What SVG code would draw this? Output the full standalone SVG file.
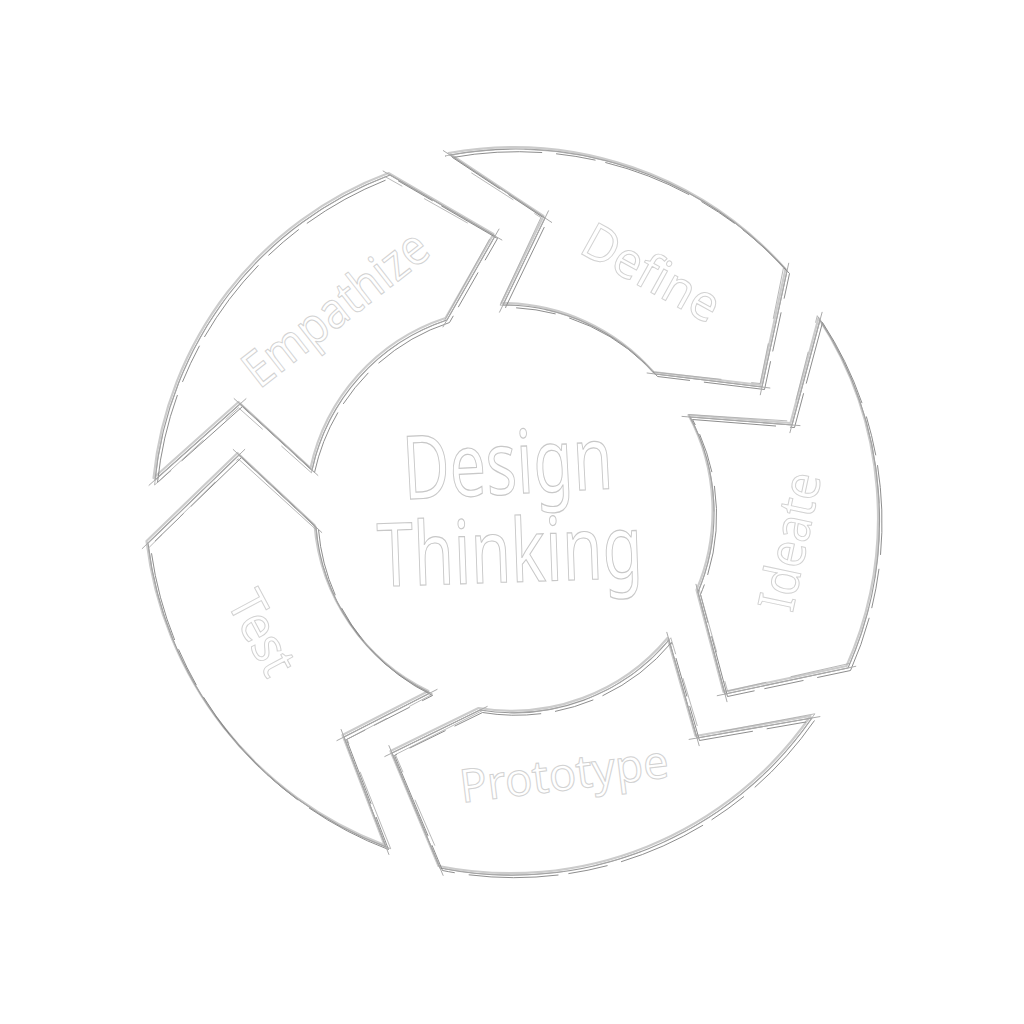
<svg xmlns="http://www.w3.org/2000/svg" xmlns:xlink="http://www.w3.org/1999/xlink" width="1024" height="1024" viewBox="0 0 1024 1024">
<style>
.base{fill:#ffffff;stroke:none}
.pa{fill:none;stroke:#9a9a9a;stroke-width:1.1;stroke-linejoin:round}
.pb{fill:none;stroke:#808080;stroke-width:0.9;stroke-dasharray:90 14 40 10;stroke-linejoin:round}
.pc{fill:none;stroke:#cccccc;stroke-width:2.2;stroke-linejoin:round}
.pd{fill:none;stroke:#a8a8a8;stroke-width:0.8;stroke-dasharray:50 30 120 25;stroke-linejoin:round}
.tick{fill:none;stroke:#aaaaaa;stroke-width:1;stroke-linecap:round}
.lbl{font-family:"Noto Sans","DejaVu Sans",sans-serif;font-size:50px;fill:#ffffff;stroke:#d2d2d2;stroke-width:1;text-anchor:middle}
.title{font-family:"Noto Sans","DejaVu Sans",sans-serif;font-size:88px;fill:#ffffff;stroke:#c8c8c8;stroke-width:1.2;text-anchor:middle}
</style>
<defs>
<path id="pE" d="M155,480 A365,365 0 0 1 390,175 L495,236 L447,320 A203,203 0 0 0 312,470 L240,404 Z"/>
<path id="pD" d="M450,155 A365,365 0 0 1 787,271 L762,387 L655,374 A203,203 0 0 0 503,305 L545,218 Z"/>
<path id="pI" d="M820,320 A365,365 0 0 1 848,668 L725,694 L698,592 A203,203 0 0 0 690,417 L792,425 Z"/>
<path id="pP" d="M812,718 A365,365 0 0 1 440,868 L392,753 L480,710 A203,203 0 0 0 669,640 L697,738 Z"/>
<path id="pT" d="M386,847 A372,372 0 0 1 148,543 L239,455 L316,527 A203,203 0 0 0 430,693 L344,737 Z"/>
</defs>
<rect width="1024" height="1024" fill="#ffffff"/>

<g id="connectors"></g>

<g id="empathize">
<use xlink:href="#pE" class="base"/>
<use xlink:href="#pE" class="pc" transform="translate(-1.5,-2)"/>
<use xlink:href="#pE" class="pa"/>
<use xlink:href="#pE" class="pb" transform="translate(2.5,2.5)"/>
<use xlink:href="#pE" class="pd" transform="rotate(-0.8 512 512)"/>
<path class="tick" d="M383.1,171 L501.9,240 M499,229.1 L443,326.9 M149,485.3 L246,398.7 M234.1,398.6 L317.9,475.4"/>
<text class="lbl" x="346" y="322" textLength="220" lengthAdjust="spacingAndGlyphs" transform="rotate(-38 346 322)">Empathize</text>
</g>

<g id="define">
<use xlink:href="#pD" class="base"/>
<use xlink:href="#pD" class="pc" transform="translate(-1.5,-2)"/>
<use xlink:href="#pD" class="pa"/>
<use xlink:href="#pD" class="pb" transform="translate(2.5,2.5)"/>
<use xlink:href="#pD" class="pd" transform="rotate(-0.8 512 512)"/>
<path class="tick" d="M788.7,263.2 L760.3,394.8 M769.9,388 L647.1,373 M443.3,150.6 L551.7,222.4 M548.5,210.8 L499.5,312.2"/>
<text class="lbl" x="643" y="288" textLength="150" lengthAdjust="spacingAndGlyphs" transform="rotate(29 643 288)">Define</text>
</g>

<g id="ideate">
<use xlink:href="#pI" class="base"/>
<use xlink:href="#pI" class="pc" transform="translate(-1.5,-2)"/>
<use xlink:href="#pI" class="pa"/>
<use xlink:href="#pI" class="pb" transform="translate(2.5,2.5)"/>
<use xlink:href="#pI" class="pd" transform="rotate(-0.8 512 512)"/>
<path class="tick" d="M855.8,666.3 L717.2,695.7 M727,701.7 L696,584.3 M822.1,312.3 L789.9,432.7 M800,425.6 L682,416.4"/>
<text class="lbl" x="807" y="545" textLength="140" lengthAdjust="spacingAndGlyphs" transform="rotate(-78 807 545)">Ideate</text>
</g>

<g id="prototype">
<use xlink:href="#pP" class="base"/>
<use xlink:href="#pP" class="pc" transform="translate(-1.5,-2)"/>
<use xlink:href="#pP" class="pa"/>
<use xlink:href="#pP" class="pb" transform="translate(2.5,2.5)"/>
<use xlink:href="#pP" class="pd" transform="rotate(-0.8 512 512)"/>
<path class="tick" d="M443.1,875.4 L388.9,745.6 M384.8,756.5 L487.2,706.5 M819.9,716.6 L689.1,739.4 M699.2,745.7 L666.8,632.3"/>
<text class="lbl" style="font-size:46px" x="566" y="790" textLength="210" lengthAdjust="spacingAndGlyphs" transform="rotate(-7 566 790)">Prototype</text>
</g>

<g id="test">
<use xlink:href="#pT" class="base"/>
<use xlink:href="#pT" class="pc" transform="translate(-1.5,-2)"/>
<use xlink:href="#pT" class="pa"/>
<use xlink:href="#pT" class="pb" transform="translate(2.5,2.5)"/>
<use xlink:href="#pT" class="pd" transform="rotate(-0.8 512 512)"/>
<path class="tick" d="M142.2,548.6 L244.8,449.4 M233.2,449.5 L321.8,532.5 M388.9,854.5 L341.1,729.5 M336.9,740.6 L437.1,689.4"/>
<text class="lbl" x="247" y="641" textLength="88" lengthAdjust="spacingAndGlyphs" transform="rotate(62 247 641)">Test</text>
</g>

<g id="center">
<text class="title" x="509" y="494" textLength="210" lengthAdjust="spacingAndGlyphs" transform="rotate(-3 509 494)">Design</text>
<text class="title" x="511" y="582" textLength="265" lengthAdjust="spacingAndGlyphs" transform="rotate(-2 511 582)">Thinking</text>
</g>
</svg>
